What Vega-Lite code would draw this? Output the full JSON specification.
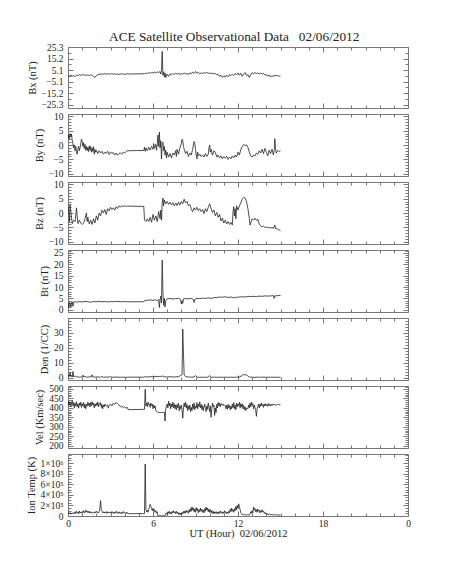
{
"$schema": "https://vega.github.io/schema/vega-lite/v6.json",
"background": "white",
"padding": {"left": 25, "top": 30, "right": 5, "bottom": 5},
"title": {"text": "ACE Satellite Observational Data\u00a0\u00a0\u00a002/06/2012", "font": "Liberation Serif", "fontSize": 13.3, "fontWeight": "normal", "color": "#222", "anchor": "middle", "offset": -2, "dx": 16},
"bounds": "flush",
"spacing": 6,
"config": {
  "view": {"stroke": "#777", "strokeWidth": 1},
  "axis": {"domain": false, "grid": false, "tickColor": "#777", "tickWidth": 1, "labelFont": "Liberation Serif", "labelFontSize": 9.5, "labelColor": "#222", "titleFont": "Liberation Serif", "titleFontSize": 10.5, "titleFontWeight": "normal", "titleColor": "#222", "labelOverlap": false, "labelBound": false, "labelFlush": false},
  "line": {"color": "#222", "strokeWidth": 0.8}
},
"datasets": {
"bx": [{"t":0,"v":0.5},{"t":0.1,"v":-0.5},{"t":0.2,"v":0.8},{"t":0.3,"v":-0.3},{"t":0.4,"v":0.2},{"t":0.5,"v":-0.8},{"t":0.6,"v":0.6},{"t":0.7,"v":0},{"t":0.8,"v":1},{"t":0.9,"v":0.3},{"t":1,"v":1.2},{"t":1.1,"v":0.5},{"t":1.2,"v":0.9},{"t":1.3,"v":0.2},{"t":1.4,"v":0.8},{"t":1.5,"v":0.1},{"t":1.6,"v":0.9},{"t":1.7,"v":0.4},{"t":1.8,"v":-0.5},{"t":1.9,"v":-1.5},{"t":2,"v":0.2},{"t":2.1,"v":0.8},{"t":2.2,"v":1.5},{"t":2.3,"v":1.2},{"t":2.4,"v":1.8},{"t":2.5,"v":1.4},{"t":2.6,"v":1.9},{"t":2.7,"v":1.5},{"t":2.8,"v":1.8},{"t":2.9,"v":1.3},{"t":3,"v":1.6},{"t":3.1,"v":1.9},{"t":3.2,"v":1.4},{"t":3.3,"v":1.7},{"t":3.4,"v":1.2},{"t":3.5,"v":1.6},{"t":3.6,"v":1.3},{"t":3.7,"v":1.7},{"t":3.8,"v":1.4},{"t":3.9,"v":1.8},{"t":4,"v":1.2},{"t":4.1,"v":1.5},{"t":4.2,"v":1.8},{"t":4.3,"v":1.5},{"t":4.4,"v":1.6},{"t":5.4,"v":1.8},{"t":5.5,"v":2.5},{"t":5.6,"v":1.9},{"t":5.7,"v":2.8},{"t":5.8,"v":2.2},{"t":5.9,"v":3},{"t":6,"v":2.4},{"t":6.1,"v":3.2},{"t":6.2,"v":2.5},{"t":6.3,"v":3.5},{"t":6.4,"v":2.8},{"t":6.5,"v":3.8},{"t":6.55,"v":1.5},{"t":6.6,"v":4.5},{"t":6.65,"v":21.5},{"t":6.7,"v":0.5},{"t":6.75,"v":3.5},{"t":6.8,"v":-1},{"t":6.85,"v":2.5},{"t":6.9,"v":-1.5},{"t":7,"v":1.5},{"t":7.1,"v":-0.5},{"t":7.2,"v":1.8},{"t":7.3,"v":0.8},{"t":7.4,"v":2},{"t":7.5,"v":1.2},{"t":7.6,"v":2.2},{"t":7.7,"v":1.5},{"t":7.8,"v":2.4},{"t":7.9,"v":1},{"t":8,"v":2},{"t":8.1,"v":1.3},{"t":8.2,"v":2.5},{"t":8.3,"v":1.6},{"t":8.4,"v":2.2},{"t":8.5,"v":1},{"t":8.6,"v":2.6},{"t":8.7,"v":1.8},{"t":8.8,"v":3.2},{"t":8.9,"v":2},{"t":9,"v":3.8},{"t":9.1,"v":2.2},{"t":9.2,"v":2.9},{"t":9.3,"v":1.8},{"t":9.4,"v":2.6},{"t":9.5,"v":1.9},{"t":9.6,"v":2.8},{"t":9.7,"v":2.2},{"t":9.8,"v":3},{"t":9.9,"v":2.1},{"t":10,"v":2.6},{"t":10.1,"v":1.7},{"t":10.2,"v":2.4},{"t":10.3,"v":1.6},{"t":10.4,"v":2},{"t":10.5,"v":0.8},{"t":10.6,"v":1.2},{"t":10.7,"v":-0.5},{"t":10.8,"v":0.5},{"t":10.9,"v":-1.5},{"t":11,"v":0},{"t":11.1,"v":-1.2},{"t":11.2,"v":0.6},{"t":11.3,"v":-0.8},{"t":11.4,"v":1},{"t":11.5,"v":0.2},{"t":11.6,"v":1.5},{"t":11.7,"v":0.3},{"t":11.8,"v":2},{"t":11.9,"v":0.8},{"t":12,"v":2.5},{"t":12.1,"v":0.5},{"t":12.2,"v":2.2},{"t":12.3,"v":-0.5},{"t":12.4,"v":1.5},{"t":12.5,"v":2.8},{"t":12.6,"v":0},{"t":12.7,"v":1.2},{"t":12.8,"v":-1.5},{"t":12.9,"v":1},{"t":13,"v":2.6},{"t":13.1,"v":1.8},{"t":13.2,"v":2.8},{"t":13.3,"v":2},{"t":13.4,"v":2.6},{"t":13.5,"v":1.5},{"t":13.6,"v":2.4},{"t":13.7,"v":1.6},{"t":13.8,"v":2},{"t":13.9,"v":0.5},{"t":14,"v":1.2},{"t":14.1,"v":-0.5},{"t":14.2,"v":0.8},{"t":14.3,"v":-1},{"t":14.4,"v":0.2},{"t":14.5,"v":-0.8},{"t":14.6,"v":0.8},{"t":14.7,"v":-0.2},{"t":14.8,"v":0.3},{"t":14.9,"v":-0.4},{"t":15,"v":0}],
"by": [{"t":0,"v":2},{"t":0.05,"v":3.5},{"t":0.1,"v":2.2},{"t":0.15,"v":4},{"t":0.2,"v":3},{"t":0.25,"v":3.8},{"t":0.3,"v":1.5},{"t":0.35,"v":0.5},{"t":0.4,"v":-1},{"t":0.45,"v":0},{"t":0.5,"v":-2},{"t":0.55,"v":-0.5},{"t":0.6,"v":-2.5},{"t":0.65,"v":-3.2},{"t":0.7,"v":-1.5},{"t":0.75,"v":-0.5},{"t":0.8,"v":-2},{"t":0.85,"v":-1},{"t":0.9,"v":0.5},{"t":0.95,"v":2},{"t":1,"v":1.2},{"t":1.05,"v":-0.5},{"t":1.1,"v":0.8},{"t":1.15,"v":-1.2},{"t":1.2,"v":0.2},{"t":1.25,"v":-1.8},{"t":1.3,"v":-0.5},{"t":1.35,"v":-2},{"t":1.4,"v":-0.8},{"t":1.45,"v":-2.3},{"t":1.5,"v":-0.3},{"t":1.55,"v":-1.8},{"t":1.6,"v":-0.5},{"t":1.65,"v":-2.5},{"t":1.7,"v":-1},{"t":1.75,"v":-2.2},{"t":1.8,"v":-0.6},{"t":1.85,"v":-3.2},{"t":1.9,"v":-1.5},{"t":1.95,"v":-2.5},{"t":2,"v":-1.8},{"t":2.1,"v":-3},{"t":2.2,"v":-2},{"t":2.3,"v":-2.8},{"t":2.4,"v":-2.2},{"t":2.5,"v":-3.2},{"t":2.6,"v":-2.5},{"t":2.7,"v":-2.9},{"t":2.8,"v":-2.2},{"t":2.9,"v":-3.3},{"t":3,"v":-2.4},{"t":3.1,"v":-3},{"t":3.2,"v":-2.6},{"t":3.3,"v":-3.5},{"t":3.4,"v":-2.8},{"t":3.5,"v":-3.6},{"t":3.6,"v":-3},{"t":3.7,"v":-2.7},{"t":3.8,"v":-3.2},{"t":3.9,"v":-2.5},{"t":4,"v":-2.8},{"t":4.1,"v":-2.3},{"t":4.2,"v":-2},{"t":5.35,"v":-1.9},{"t":5.4,"v":-0.8},{"t":5.45,"v":-2.2},{"t":5.5,"v":-1},{"t":5.6,"v":-2},{"t":5.7,"v":-0.8},{"t":5.8,"v":-1.8},{"t":5.9,"v":-0.5},{"t":6,"v":-1.5},{"t":6.05,"v":0.5},{"t":6.1,"v":-1.2},{"t":6.2,"v":0.2},{"t":6.25,"v":-1.8},{"t":6.3,"v":0.5},{"t":6.35,"v":3.5},{"t":6.4,"v":-0.5},{"t":6.45,"v":4.5},{"t":6.5,"v":-1},{"t":6.55,"v":1.5},{"t":6.6,"v":-4.8},{"t":6.65,"v":0.5},{"t":6.7,"v":1},{"t":6.75,"v":-2},{"t":6.8,"v":-0.5},{"t":6.85,"v":-3.5},{"t":6.9,"v":-1.8},{"t":6.95,"v":-4.5},{"t":7,"v":-2.5},{"t":7.1,"v":-4.2},{"t":7.2,"v":-3},{"t":7.3,"v":-4.5},{"t":7.4,"v":-2.8},{"t":7.5,"v":-3.5},{"t":7.6,"v":-2},{"t":7.65,"v":-4},{"t":7.7,"v":-1.5},{"t":7.8,"v":-3.2},{"t":7.9,"v":-1},{"t":8,"v":0.5},{"t":8.05,"v":2},{"t":8.1,"v":1.5},{"t":8.15,"v":-0.5},{"t":8.2,"v":-1.5},{"t":8.3,"v":-3},{"t":8.4,"v":-2.2},{"t":8.5,"v":-4},{"t":8.6,"v":-2.8},{"t":8.7,"v":-3.5},{"t":8.8,"v":-1.5},{"t":8.85,"v":0},{"t":8.9,"v":1.2},{"t":8.95,"v":0.5},{"t":9,"v":-1.5},{"t":9.05,"v":-3.5},{"t":9.1,"v":-4.8},{"t":9.15,"v":-2.5},{"t":9.2,"v":-3.8},{"t":9.3,"v":-3.2},{"t":9.4,"v":-4},{"t":9.5,"v":-3.5},{"t":9.6,"v":-4.2},{"t":9.7,"v":-3},{"t":9.8,"v":-4},{"t":9.9,"v":-3.2},{"t":9.95,"v":-1},{"t":10,"v":0},{"t":10.05,"v":-2.5},{"t":10.1,"v":-1.5},{"t":10.2,"v":-3.5},{"t":10.3,"v":-2},{"t":10.4,"v":-2.5},{"t":10.5,"v":-4.2},{"t":10.6,"v":-3.5},{"t":10.7,"v":-4.5},{"t":10.8,"v":-3.8},{"t":10.9,"v":-4.8},{"t":11,"v":-4},{"t":11.1,"v":-4.6},{"t":11.2,"v":-3.9},{"t":11.3,"v":-5},{"t":11.4,"v":-4.2},{"t":11.5,"v":-4.8},{"t":11.6,"v":-3.8},{"t":11.7,"v":-4.5},{"t":11.8,"v":-3.5},{"t":11.9,"v":-4.2},{"t":12,"v":-2.5},{"t":12.1,"v":-3.5},{"t":12.2,"v":-1.5},{"t":12.3,"v":-0.5},{"t":12.4,"v":0.2},{"t":12.5,"v":-0.2},{"t":12.6,"v":0},{"t":12.7,"v":-0.8},{"t":12.8,"v":-2.5},{"t":12.9,"v":-3.8},{"t":13,"v":-4.2},{"t":13.1,"v":-3.5},{"t":13.2,"v":-3.8},{"t":13.3,"v":-2.8},{"t":13.4,"v":-3.2},{"t":13.5,"v":-2},{"t":13.6,"v":-2.8},{"t":13.7,"v":-1.5},{"t":13.8,"v":-3},{"t":13.9,"v":-1.2},{"t":14,"v":-2.5},{"t":14.1,"v":-3.8},{"t":14.2,"v":-1.8},{"t":14.3,"v":-3},{"t":14.4,"v":-1.5},{"t":14.5,"v":-3.5},{"t":14.55,"v":-2},{"t":14.6,"v":2.2},{"t":14.65,"v":-1.5},{"t":14.7,"v":-2.8},{"t":14.8,"v":-1.8},{"t":14.9,"v":-2.3},{"t":15,"v":-2}],
"bz": [{"t":0,"v":2.6},{"t":0.05,"v":0.5},{"t":0.1,"v":-3},{"t":0.15,"v":2.8},{"t":0.2,"v":0.5},{"t":0.3,"v":-3.7},{"t":0.4,"v":-2.5},{"t":0.5,"v":-3},{"t":0.6,"v":1.8},{"t":0.65,"v":-1},{"t":0.7,"v":-3.7},{"t":0.8,"v":-2.5},{"t":0.9,"v":-3.5},{"t":1,"v":-4},{"t":1.1,"v":-3.5},{"t":1.2,"v":-2},{"t":1.3,"v":0},{"t":1.35,"v":-3},{"t":1.4,"v":-1.5},{"t":1.5,"v":-3.8},{"t":1.6,"v":-2.5},{"t":1.7,"v":-4},{"t":1.8,"v":-2},{"t":1.9,"v":-3.5},{"t":2,"v":-1},{"t":2.1,"v":-2.5},{"t":2.2,"v":0},{"t":2.3,"v":-1},{"t":2.4,"v":1},{"t":2.5,"v":0},{"t":2.6,"v":1.2},{"t":2.7,"v":-0.5},{"t":2.8,"v":1.5},{"t":2.9,"v":0.8},{"t":3,"v":2},{"t":3.1,"v":1.2},{"t":3.2,"v":1.8},{"t":3.3,"v":1},{"t":3.4,"v":2.2},{"t":3.5,"v":1.6},{"t":3.6,"v":2.5},{"t":3.7,"v":2},{"t":3.8,"v":2.6},{"t":3.9,"v":2.2},{"t":4,"v":2.5},{"t":4.1,"v":2.3},{"t":4.2,"v":2.4},{"t":5.35,"v":2.3},{"t":5.4,"v":-2.5},{"t":5.5,"v":-3},{"t":5.6,"v":-2},{"t":5.7,"v":-3},{"t":5.8,"v":-1.5},{"t":5.9,"v":-3.2},{"t":6,"v":-0.5},{"t":6.1,"v":-2.5},{"t":6.2,"v":-1},{"t":6.3,"v":-3},{"t":6.4,"v":0.5},{"t":6.5,"v":-2},{"t":6.55,"v":1},{"t":6.6,"v":-2.5},{"t":6.65,"v":3.5},{"t":6.7,"v":5.2},{"t":6.75,"v":2.5},{"t":6.8,"v":4.5},{"t":6.9,"v":3.2},{"t":7,"v":4},{"t":7.1,"v":3},{"t":7.2,"v":3.8},{"t":7.3,"v":2.8},{"t":7.4,"v":3.6},{"t":7.5,"v":2.5},{"t":7.6,"v":3.5},{"t":7.7,"v":2.6},{"t":7.8,"v":3.8},{"t":7.9,"v":2.8},{"t":8,"v":4},{"t":8.1,"v":3.2},{"t":8.2,"v":4.8},{"t":8.3,"v":3.5},{"t":8.4,"v":4},{"t":8.5,"v":2.5},{"t":8.6,"v":3},{"t":8.7,"v":1.5},{"t":8.8,"v":0.5},{"t":8.9,"v":1.8},{"t":9,"v":1},{"t":9.1,"v":2},{"t":9.2,"v":0.8},{"t":9.3,"v":1.5},{"t":9.4,"v":0.5},{"t":9.5,"v":1.2},{"t":9.6,"v":-0.2},{"t":9.7,"v":1.5},{"t":9.8,"v":0.5},{"t":9.9,"v":2},{"t":10,"v":3.2},{"t":10.1,"v":1.5},{"t":10.2,"v":0.2},{"t":10.3,"v":1},{"t":10.4,"v":-1},{"t":10.5,"v":0.2},{"t":10.6,"v":-1.5},{"t":10.7,"v":-0.5},{"t":10.8,"v":-2.8},{"t":10.9,"v":-1.8},{"t":11,"v":-3.5},{"t":11.1,"v":-2.5},{"t":11.2,"v":-3.8},{"t":11.3,"v":-3},{"t":11.4,"v":-4},{"t":11.5,"v":-3.2},{"t":11.6,"v":-4.2},{"t":11.65,"v":0.5},{"t":11.7,"v":2.2},{"t":11.75,"v":-1},{"t":11.8,"v":1.5},{"t":11.85,"v":-2},{"t":11.9,"v":2.5},{"t":12,"v":1},{"t":12.1,"v":2.5},{"t":12.2,"v":3.5},{"t":12.3,"v":5},{"t":12.4,"v":5.5},{"t":12.5,"v":5.2},{"t":12.6,"v":4},{"t":12.7,"v":1.5},{"t":12.8,"v":-2},{"t":12.85,"v":-4.2},{"t":12.9,"v":-3.5},{"t":13,"v":-2},{"t":13.1,"v":-2.5},{"t":13.2,"v":-1.8},{"t":13.3,"v":-2.6},{"t":13.4,"v":-2.2},{"t":13.5,"v":-3.8},{"t":13.6,"v":-4.5},{"t":13.7,"v":-4.8},{"t":13.8,"v":-4.6},{"t":13.9,"v":-5},{"t":14,"v":-4.9},{"t":14.1,"v":-5.1},{"t":14.2,"v":-5},{"t":14.3,"v":-5.3},{"t":14.4,"v":-5},{"t":14.5,"v":-5.4},{"t":14.6,"v":-4.2},{"t":14.65,"v":-5.5},{"t":14.7,"v":-5.2},{"t":14.8,"v":-5.8},{"t":14.9,"v":-5.9},{"t":15,"v":-6.2}],
"bt": [{"t":0,"v":3},{"t":0.05,"v":1},{"t":0.1,"v":3.2},{"t":0.15,"v":2.8},{"t":0.2,"v":1.2},{"t":0.25,"v":3.3},{"t":0.3,"v":3.5},{"t":0.35,"v":1.5},{"t":0.4,"v":3.4},{"t":0.5,"v":3.6},{"t":0.6,"v":3.3},{"t":0.8,"v":3.6},{"t":1,"v":3.4},{"t":1.2,"v":3.7},{"t":1.4,"v":3.5},{"t":1.6,"v":3.3},{"t":1.8,"v":3.6},{"t":2,"v":3.5},{"t":2.2,"v":3.7},{"t":2.4,"v":3.5},{"t":2.6,"v":3.6},{"t":2.8,"v":3.4},{"t":3,"v":3.6},{"t":3.2,"v":3.5},{"t":3.4,"v":3.7},{"t":3.6,"v":3.6},{"t":3.8,"v":3.5},{"t":4,"v":3.6},{"t":4.2,"v":3.5},{"t":5.35,"v":3.5},{"t":5.4,"v":4},{"t":5.6,"v":4.2},{"t":5.8,"v":4.3},{"t":6,"v":4.1},{"t":6.2,"v":4.4},{"t":6.3,"v":4},{"t":6.4,"v":4.5},{"t":6.45,"v":1},{"t":6.5,"v":4.5},{"t":6.55,"v":6},{"t":6.6,"v":3},{"t":6.65,"v":21.8},{"t":6.7,"v":8},{"t":6.75,"v":2},{"t":6.8,"v":5},{"t":6.85,"v":1.2},{"t":6.9,"v":4},{"t":7,"v":4.8},{"t":7.2,"v":5},{"t":7.4,"v":4.7},{"t":7.6,"v":4.9},{"t":7.8,"v":5},{"t":7.95,"v":4.6},{"t":8,"v":2.5},{"t":8.05,"v":4},{"t":8.1,"v":2.8},{"t":8.15,"v":4.8},{"t":8.3,"v":4.9},{"t":8.5,"v":4.8},{"t":8.7,"v":5},{"t":8.85,"v":4.5},{"t":8.9,"v":3.2},{"t":8.95,"v":4.6},{"t":9.1,"v":5},{"t":9.3,"v":4.9},{"t":9.5,"v":5.1},{"t":9.7,"v":5},{"t":9.9,"v":5.2},{"t":10.1,"v":5},{"t":10.3,"v":5.3},{"t":10.5,"v":5.4},{"t":10.7,"v":5.6},{"t":10.9,"v":5.5},{"t":11.1,"v":5.7},{"t":11.3,"v":5.4},{"t":11.5,"v":5.6},{"t":11.7,"v":5.3},{"t":11.9,"v":5.5},{"t":12.1,"v":5.6},{"t":12.3,"v":5.7},{"t":12.5,"v":5.6},{"t":12.7,"v":5.9},{"t":12.9,"v":5.8},{"t":13.1,"v":5.9},{"t":13.3,"v":5.8},{"t":13.5,"v":6},{"t":13.7,"v":5.9},{"t":13.9,"v":6.1},{"t":14.1,"v":6},{"t":14.3,"v":6.1},{"t":14.5,"v":6.2},{"t":14.55,"v":5},{"t":14.6,"v":6.1},{"t":14.8,"v":6.2},{"t":15,"v":6.3}],
"den": [{"t":0,"v":0.5},{"t":0.05,"v":2},{"t":0.1,"v":1},{"t":0.15,"v":3.5},{"t":0.2,"v":0.8},{"t":0.25,"v":1.5},{"t":0.3,"v":0.5},{"t":0.35,"v":4.2},{"t":0.4,"v":0.6},{"t":0.5,"v":1.2},{"t":0.6,"v":0.4},{"t":0.7,"v":0.8},{"t":0.8,"v":0.3},{"t":0.9,"v":0.5},{"t":1,"v":0.6},{"t":1.05,"v":1.8},{"t":1.1,"v":0.5},{"t":1.2,"v":0.8},{"t":1.3,"v":0.4},{"t":1.5,"v":0.6},{"t":1.65,"v":0.5},{"t":1.7,"v":2},{"t":1.75,"v":0.6},{"t":1.9,"v":0.4},{"t":2.1,"v":0.6},{"t":2.3,"v":0.3},{"t":2.4,"v":1},{"t":2.5,"v":0.3},{"t":2.7,"v":0.5},{"t":2.9,"v":0.4},{"t":3,"v":0.9},{"t":3.1,"v":0.3},{"t":3.3,"v":0.4},{"t":3.5,"v":0.5},{"t":3.7,"v":0.3},{"t":3.9,"v":0.4},{"t":4.1,"v":0.3},{"t":4.3,"v":0.4},{"t":5.35,"v":0.4},{"t":5.4,"v":0.7},{"t":5.6,"v":0.5},{"t":5.8,"v":0.8},{"t":6,"v":0.6},{"t":6.2,"v":0.9},{"t":6.4,"v":0.7},{"t":6.5,"v":1},{"t":6.6,"v":0.8},{"t":6.7,"v":1.2},{"t":6.8,"v":0.6},{"t":7,"v":0.5},{"t":7.2,"v":0.7},{"t":7.4,"v":0.5},{"t":7.6,"v":0.6},{"t":7.8,"v":0.8},{"t":7.95,"v":1.5},{"t":8.05,"v":2},{"t":8.1,"v":32.6},{"t":8.15,"v":16},{"t":8.2,"v":2},{"t":8.3,"v":0.8},{"t":8.5,"v":0.5},{"t":8.7,"v":0.4},{"t":8.9,"v":0.5},{"t":9,"v":1.5},{"t":9.1,"v":0.4},{"t":9.3,"v":0.3},{"t":9.5,"v":0.4},{"t":9.7,"v":0.3},{"t":9.9,"v":0.4},{"t":10,"v":1.5},{"t":10.1,"v":0.3},{"t":10.3,"v":0.4},{"t":10.5,"v":0.3},{"t":10.7,"v":0.4},{"t":10.9,"v":0.3},{"t":11.1,"v":0.4},{"t":11.3,"v":0.3},{"t":11.5,"v":0.4},{"t":11.7,"v":0.3},{"t":11.9,"v":0.4},{"t":12.1,"v":0.5},{"t":12.3,"v":1.5},{"t":12.4,"v":2.2},{"t":12.5,"v":1.8},{"t":12.6,"v":2},{"t":12.7,"v":1.2},{"t":12.8,"v":0.5},{"t":13,"v":0.4},{"t":13.2,"v":0.3},{"t":13.4,"v":0.4},{"t":13.6,"v":0.3},{"t":13.8,"v":0.5},{"t":14,"v":0.3},{"t":14.2,"v":0.4},{"t":14.4,"v":0.3},{"t":14.6,"v":0.4},{"t":14.8,"v":0.3},{"t":15,"v":0.3}],
"vel": [{"t":0,"v":410},{"t":0.05,"v":435},{"t":0.1,"v":415},{"t":0.15,"v":430},{"t":0.2,"v":405},{"t":0.25,"v":425},{"t":0.3,"v":440},{"t":0.35,"v":410},{"t":0.4,"v":428},{"t":0.45,"v":400},{"t":0.5,"v":425},{"t":0.55,"v":410},{"t":0.6,"v":432},{"t":0.65,"v":405},{"t":0.7,"v":420},{"t":0.75,"v":398},{"t":0.8,"v":425},{"t":0.85,"v":412},{"t":0.9,"v":430},{"t":0.95,"v":402},{"t":1,"v":422},{"t":1.05,"v":410},{"t":1.1,"v":428},{"t":1.15,"v":400},{"t":1.2,"v":420},{"t":1.25,"v":395},{"t":1.3,"v":418},{"t":1.35,"v":408},{"t":1.4,"v":430},{"t":1.45,"v":412},{"t":1.5,"v":425},{"t":1.55,"v":405},{"t":1.6,"v":428},{"t":1.65,"v":410},{"t":1.7,"v":432},{"t":1.75,"v":415},{"t":1.8,"v":425},{"t":1.85,"v":400},{"t":1.9,"v":420},{"t":1.95,"v":408},{"t":2,"v":425},{"t":2.05,"v":412},{"t":2.1,"v":430},{"t":2.15,"v":405},{"t":2.2,"v":422},{"t":2.25,"v":415},{"t":2.3,"v":428},{"t":2.35,"v":402},{"t":2.4,"v":418},{"t":2.45,"v":395},{"t":2.5,"v":415},{"t":2.55,"v":405},{"t":2.6,"v":420},{"t":2.7,"v":408},{"t":2.8,"v":415},{"t":2.85,"v":398},{"t":2.9,"v":412},{"t":3,"v":420},{"t":3.1,"v":410},{"t":3.2,"v":425},{"t":3.3,"v":418},{"t":3.4,"v":428},{"t":3.5,"v":420},{"t":3.6,"v":415},{"t":3.7,"v":405},{"t":3.8,"v":410},{"t":3.9,"v":400},{"t":4,"v":405},{"t":4.1,"v":398},{"t":4.2,"v":402},{"t":4.25,"v":390},{"t":5.4,"v":392},{"t":5.45,"v":498},{"t":5.5,"v":410},{"t":5.55,"v":425},{"t":5.6,"v":405},{"t":5.65,"v":430},{"t":5.7,"v":415},{"t":5.75,"v":420},{"t":5.8,"v":402},{"t":5.85,"v":425},{"t":5.9,"v":412},{"t":5.95,"v":420},{"t":6,"v":395},{"t":6.05,"v":415},{"t":6.1,"v":400},{"t":6.15,"v":410},{"t":6.2,"v":385},{"t":6.3,"v":378},{"t":6.4,"v":375},{"t":6.5,"v":376},{"t":6.6,"v":375},{"t":6.7,"v":376},{"t":6.8,"v":377},{"t":6.85,"v":330},{"t":6.9,"v":395},{"t":7,"v":420},{"t":7.05,"v":400},{"t":7.1,"v":435},{"t":7.15,"v":410},{"t":7.2,"v":425},{"t":7.25,"v":395},{"t":7.3,"v":420},{"t":7.35,"v":405},{"t":7.4,"v":430},{"t":7.45,"v":400},{"t":7.5,"v":422},{"t":7.55,"v":395},{"t":7.6,"v":415},{"t":7.65,"v":390},{"t":7.7,"v":418},{"t":7.75,"v":400},{"t":7.8,"v":425},{"t":7.85,"v":385},{"t":7.9,"v":410},{"t":7.95,"v":395},{"t":8,"v":415},{"t":8.05,"v":390},{"t":8.1,"v":345},{"t":8.15,"v":400},{"t":8.2,"v":425},{"t":8.25,"v":405},{"t":8.3,"v":430},{"t":8.35,"v":398},{"t":8.4,"v":418},{"t":8.45,"v":385},{"t":8.5,"v":410},{"t":8.55,"v":392},{"t":8.6,"v":415},{"t":8.65,"v":380},{"t":8.7,"v":402},{"t":8.75,"v":385},{"t":8.8,"v":420},{"t":8.85,"v":395},{"t":8.9,"v":425},{"t":8.95,"v":390},{"t":9,"v":410},{"t":9.05,"v":400},{"t":9.1,"v":428},{"t":9.15,"v":395},{"t":9.2,"v":420},{"t":9.25,"v":405},{"t":9.3,"v":432},{"t":9.35,"v":400},{"t":9.4,"v":418},{"t":9.45,"v":390},{"t":9.5,"v":412},{"t":9.55,"v":385},{"t":9.6,"v":405},{"t":9.65,"v":420},{"t":9.7,"v":395},{"t":9.75,"v":380},{"t":9.8,"v":410},{"t":9.85,"v":392},{"t":9.9,"v":425},{"t":9.95,"v":400},{"t":10,"v":380},{"t":10.05,"v":410},{"t":10.1,"v":350},{"t":10.15,"v":395},{"t":10.2,"v":425},{"t":10.25,"v":405},{"t":10.3,"v":415},{"t":10.35,"v":360},{"t":10.4,"v":400},{"t":10.45,"v":375},{"t":10.5,"v":418},{"t":10.55,"v":400},{"t":10.6,"v":428},{"t":10.65,"v":410},{"t":10.7,"v":425},{"t":10.75,"v":405},{"t":10.8,"v":422},{"t":10.85,"v":415},{"t":10.9,"v":420},{"t":10.95,"v":412},{"t":11,"v":418},{"t":11.1,"v":410},{"t":11.15,"v":395},{"t":11.2,"v":415},{"t":11.25,"v":392},{"t":11.3,"v":418},{"t":11.35,"v":400},{"t":11.4,"v":412},{"t":11.45,"v":390},{"t":11.5,"v":408},{"t":11.55,"v":395},{"t":11.6,"v":420},{"t":11.65,"v":400},{"t":11.7,"v":428},{"t":11.75,"v":395},{"t":11.8,"v":415},{"t":11.85,"v":390},{"t":11.9,"v":425},{"t":11.95,"v":405},{"t":12,"v":420},{"t":12.05,"v":410},{"t":12.1,"v":430},{"t":12.15,"v":398},{"t":12.2,"v":422},{"t":12.25,"v":405},{"t":12.3,"v":420},{"t":12.35,"v":395},{"t":12.4,"v":412},{"t":12.45,"v":390},{"t":12.5,"v":405},{"t":12.55,"v":385},{"t":12.6,"v":398},{"t":12.7,"v":395},{"t":12.75,"v":415},{"t":12.8,"v":400},{"t":12.85,"v":425},{"t":12.9,"v":405},{"t":12.95,"v":430},{"t":13,"v":412},{"t":13.05,"v":422},{"t":13.1,"v":395},{"t":13.15,"v":415},{"t":13.2,"v":400},{"t":13.25,"v":385},{"t":13.3,"v":355},{"t":13.35,"v":395},{"t":13.4,"v":405},{"t":13.45,"v":418},{"t":13.5,"v":400},{"t":13.55,"v":420},{"t":13.6,"v":408},{"t":13.65,"v":425},{"t":13.7,"v":410},{"t":13.75,"v":418},{"t":13.8,"v":402},{"t":13.85,"v":420},{"t":13.9,"v":410},{"t":13.95,"v":422},{"t":14,"v":412},{"t":14.05,"v":418},{"t":14.1,"v":408},{"t":14.15,"v":422},{"t":14.2,"v":412},{"t":14.25,"v":420},{"t":14.3,"v":410},{"t":14.35,"v":418},{"t":14.4,"v":412},{"t":14.45,"v":420},{"t":14.5,"v":415},{"t":14.6,"v":418},{"t":14.7,"v":412},{"t":14.8,"v":420},{"t":14.9,"v":415},{"t":15,"v":418}],
"temp": [{"t":0,"v":40000},{"t":0.05,"v":70000},{"t":0.1,"v":45000},{"t":0.15,"v":60000},{"t":0.2,"v":35000},{"t":0.3,"v":55000},{"t":0.35,"v":40000},{"t":0.4,"v":65000},{"t":0.45,"v":50000},{"t":0.5,"v":80000},{"t":0.55,"v":45000},{"t":0.6,"v":90000},{"t":0.65,"v":60000},{"t":0.7,"v":75000},{"t":0.75,"v":40000},{"t":0.8,"v":95000},{"t":0.85,"v":55000},{"t":0.9,"v":70000},{"t":0.95,"v":50000},{"t":1,"v":85000},{"t":1.05,"v":60000},{"t":1.1,"v":100000},{"t":1.15,"v":70000},{"t":1.2,"v":60000},{"t":1.25,"v":110000},{"t":1.3,"v":75000},{"t":1.35,"v":95000},{"t":1.4,"v":65000},{"t":1.45,"v":85000},{"t":1.5,"v":55000},{"t":1.55,"v":90000},{"t":1.6,"v":60000},{"t":1.65,"v":75000},{"t":1.7,"v":50000},{"t":1.8,"v":70000},{"t":1.85,"v":55000},{"t":1.9,"v":80000},{"t":1.95,"v":60000},{"t":2,"v":90000},{"t":2.05,"v":65000},{"t":2.1,"v":75000},{"t":2.15,"v":55000},{"t":2.2,"v":85000},{"t":2.25,"v":150000},{"t":2.3,"v":290000},{"t":2.35,"v":120000},{"t":2.4,"v":90000},{"t":2.45,"v":60000},{"t":2.5,"v":80000},{"t":2.55,"v":55000},{"t":2.6,"v":75000},{"t":2.65,"v":60000},{"t":2.7,"v":85000},{"t":2.75,"v":50000},{"t":2.8,"v":70000},{"t":2.85,"v":55000},{"t":2.9,"v":80000},{"t":2.95,"v":60000},{"t":3,"v":75000},{"t":3.05,"v":50000},{"t":3.1,"v":85000},{"t":3.15,"v":60000},{"t":3.2,"v":70000},{"t":3.25,"v":45000},{"t":3.3,"v":75000},{"t":3.35,"v":55000},{"t":3.4,"v":90000},{"t":3.45,"v":60000},{"t":3.5,"v":70000},{"t":3.55,"v":45000},{"t":3.6,"v":80000},{"t":3.65,"v":55000},{"t":3.7,"v":65000},{"t":3.75,"v":40000},{"t":3.8,"v":70000},{"t":3.85,"v":50000},{"t":3.9,"v":85000},{"t":3.95,"v":55000},{"t":4,"v":65000},{"t":4.1,"v":45000},{"t":4.15,"v":75000},{"t":4.2,"v":50000},{"t":4.25,"v":45000},{"t":5.4,"v":45000},{"t":5.45,"v":980000},{"t":5.5,"v":120000},{"t":5.55,"v":80000},{"t":5.6,"v":110000},{"t":5.65,"v":70000},{"t":5.7,"v":130000},{"t":5.75,"v":160000},{"t":5.8,"v":220000},{"t":5.85,"v":180000},{"t":5.9,"v":140000},{"t":5.95,"v":100000},{"t":6,"v":150000},{"t":6.05,"v":90000},{"t":6.1,"v":120000},{"t":6.15,"v":70000},{"t":6.2,"v":100000},{"t":6.25,"v":60000},{"t":6.3,"v":80000},{"t":6.35,"v":5000},{"t":6.6,"v":3000},{"t":6.85,"v":5000},{"t":6.9,"v":40000},{"t":6.95,"v":60000},{"t":7,"v":30000},{"t":7.05,"v":80000},{"t":7.1,"v":50000},{"t":7.15,"v":90000},{"t":7.2,"v":40000},{"t":7.25,"v":70000},{"t":7.3,"v":35000},{"t":7.35,"v":85000},{"t":7.4,"v":55000},{"t":7.45,"v":100000},{"t":7.5,"v":60000},{"t":7.55,"v":80000},{"t":7.6,"v":45000},{"t":7.65,"v":90000},{"t":7.7,"v":50000},{"t":7.75,"v":75000},{"t":7.8,"v":30000},{"t":7.85,"v":60000},{"t":7.9,"v":25000},{"t":7.95,"v":55000},{"t":8,"v":30000},{"t":8.05,"v":70000},{"t":8.1,"v":40000},{"t":8.15,"v":85000},{"t":8.2,"v":50000},{"t":8.25,"v":95000},{"t":8.3,"v":60000},{"t":8.35,"v":110000},{"t":8.4,"v":70000},{"t":8.45,"v":90000},{"t":8.5,"v":50000},{"t":8.55,"v":120000},{"t":8.6,"v":75000},{"t":8.65,"v":140000},{"t":8.7,"v":90000},{"t":8.75,"v":170000},{"t":8.8,"v":110000},{"t":8.85,"v":150000},{"t":8.9,"v":80000},{"t":8.95,"v":130000},{"t":9,"v":70000},{"t":9.05,"v":160000},{"t":9.1,"v":100000},{"t":9.15,"v":140000},{"t":9.2,"v":60000},{"t":9.25,"v":120000},{"t":9.3,"v":80000},{"t":9.35,"v":150000},{"t":9.4,"v":90000},{"t":9.45,"v":130000},{"t":9.5,"v":70000},{"t":9.55,"v":110000},{"t":9.6,"v":60000},{"t":9.65,"v":140000},{"t":9.7,"v":90000},{"t":9.75,"v":170000},{"t":9.8,"v":110000},{"t":9.85,"v":150000},{"t":9.9,"v":80000},{"t":9.95,"v":130000},{"t":10,"v":70000},{"t":10.05,"v":120000},{"t":10.1,"v":60000},{"t":10.15,"v":100000},{"t":10.2,"v":50000},{"t":10.25,"v":90000},{"t":10.3,"v":40000},{"t":10.35,"v":75000},{"t":10.4,"v":50000},{"t":10.45,"v":85000},{"t":10.5,"v":45000},{"t":10.55,"v":70000},{"t":10.6,"v":40000},{"t":10.65,"v":80000},{"t":10.7,"v":50000},{"t":10.75,"v":95000},{"t":10.8,"v":60000},{"t":10.85,"v":80000},{"t":10.9,"v":45000},{"t":10.95,"v":75000},{"t":11,"v":50000},{"t":11.05,"v":100000},{"t":11.1,"v":60000},{"t":11.15,"v":80000},{"t":11.2,"v":40000},{"t":11.25,"v":70000},{"t":11.3,"v":50000},{"t":11.35,"v":90000},{"t":11.4,"v":60000},{"t":11.45,"v":130000},{"t":11.5,"v":80000},{"t":11.55,"v":150000},{"t":11.6,"v":90000},{"t":11.65,"v":120000},{"t":11.7,"v":70000},{"t":11.75,"v":140000},{"t":11.8,"v":100000},{"t":11.85,"v":180000},{"t":11.9,"v":120000},{"t":11.95,"v":200000},{"t":12,"v":140000},{"t":12.05,"v":230000},{"t":12.1,"v":170000},{"t":12.15,"v":120000},{"t":12.2,"v":60000},{"t":12.25,"v":40000},{"t":12.3,"v":25000},{"t":12.35,"v":35000},{"t":12.4,"v":20000},{"t":12.45,"v":30000},{"t":12.5,"v":15000},{"t":12.55,"v":25000},{"t":12.6,"v":20000},{"t":12.65,"v":30000},{"t":12.7,"v":15000},{"t":12.75,"v":25000},{"t":12.8,"v":20000},{"t":12.85,"v":40000},{"t":12.9,"v":80000},{"t":12.95,"v":50000},{"t":13,"v":100000},{"t":13.05,"v":60000},{"t":13.1,"v":170000},{"t":13.15,"v":110000},{"t":13.2,"v":140000},{"t":13.25,"v":80000},{"t":13.3,"v":120000},{"t":13.35,"v":70000},{"t":13.4,"v":130000},{"t":13.45,"v":90000},{"t":13.5,"v":110000},{"t":13.55,"v":60000},{"t":13.6,"v":100000},{"t":13.65,"v":70000},{"t":13.7,"v":120000},{"t":13.75,"v":80000},{"t":13.8,"v":95000},{"t":13.85,"v":50000},{"t":13.9,"v":70000},{"t":13.95,"v":40000},{"t":14,"v":55000},{"t":14.05,"v":30000},{"t":14.1,"v":45000},{"t":14.15,"v":25000},{"t":14.2,"v":40000},{"t":14.3,"v":20000},{"t":14.35,"v":35000},{"t":14.4,"v":15000},{"t":14.5,"v":30000},{"t":14.6,"v":20000},{"t":14.7,"v":25000},{"t":14.8,"v":15000},{"t":14.9,"v":20000},{"t":15,"v":15000}]
},
"vconcat": [
{"width": 340, "height": 61, "resolve": {"axis": {"x": "independent", "y": "independent"}},
 "layer": [
  {"data": {"name": "bx"}, "mark": {"type": "line", "clip": true},
   "encoding": {
    "x": {"field": "t", "type": "quantitative", "scale": {"domain": [0, 24], "nice": false}, "axis": {"orient": "bottom", "title": null, "labels": false, "values": [0,1,2,3,4,5,6,7,8,9,10,11,12,13,14,15,16,17,18,19,20,21,22,23,24], "tickSize": {"condition": {"test": "datum.value % 6 === 0", "value": -5}, "value": -3}}},
    "y": {"field": "v", "type": "quantitative", "scale": {"domain": [-28.3, 25.3], "nice": false, "zero": false}, "axis": {"orient": "left", "title": "Bx (nT)", "titlePadding": 4, "values": [-25.3,-20.24,-15.18,-10.12,-5.06,0,5.06,10.12,15.18,20.24,25.3], "labelExpr": "indexof([-25.3,-15.18,-5.06,5.06,15.18,25.3], datum.value) >= 0 ? format(datum.value, '.1f') : ''", "labelPadding": 10, "tickSize": {"condition": {"test": "indexof([-25.3,-15.18,-5.06,5.06,15.18,25.3], datum.value) >= 0", "value": -5}, "value": -3}}}
   }},
  {"data": {"name": "bx"}, "mark": {"type": "line", "strokeOpacity": 0},
   "encoding": {
    "x": {"field": "t", "type": "quantitative", "axis": {"orient": "top", "title": null, "labels": false, "values": [0,1,2,3,4,5,6,7,8,9,10,11,12,13,14,15,16,17,18,19,20,21,22,23,24], "tickSize": {"condition": {"test": "datum.value % 6 === 0", "value": -5}, "value": -3}}},
    "y": {"field": "v", "type": "quantitative", "axis": {"orient": "right", "title": null, "labels": false, "values": [-25.3,-20.24,-15.18,-10.12,-5.06,0,5.06,10.12,15.18,20.24,25.3], "tickSize": {"condition": {"test": "indexof([-25.3,-15.18,-5.06,5.06,15.18,25.3], datum.value) >= 0", "value": -5}, "value": -3}}}
   }}
 ]},
{"width": 340, "height": 62, "resolve": {"axis": {"x": "independent", "y": "independent"}},
 "layer": [
  {"data": {"name": "by"}, "mark": {"type": "line", "clip": true},
   "encoding": {
    "x": {"field": "t", "type": "quantitative", "scale": {"domain": [0, 24], "nice": false}, "axis": {"orient": "bottom", "title": null, "labels": false, "values": [0,1,2,3,4,5,6,7,8,9,10,11,12,13,14,15,16,17,18,19,20,21,22,23,24], "tickSize": {"condition": {"test": "datum.value % 6 === 0", "value": -5}, "value": -3}}},
    "y": {"field": "v", "type": "quantitative", "scale": {"domain": [-10.8, 10.8], "nice": false, "zero": false}, "axis": {"orient": "left", "title": "By (nT)", "titlePadding": 4, "values": [-10,-9,-8,-7,-6,-5,-4,-3,-2,-1,0,1,2,3,4,5,6,7,8,9,10], "labelExpr": "datum.value % 5 === 0 ? format(datum.value, 'd') : ''", "labelPadding": 10, "tickSize": {"condition": {"test": "datum.value % 5 === 0", "value": -5}, "value": -3}}}
   }},
  {"data": {"name": "by"}, "mark": {"type": "line", "strokeOpacity": 0},
   "encoding": {
    "x": {"field": "t", "type": "quantitative", "axis": {"orient": "top", "title": null, "labels": false, "values": [0,1,2,3,4,5,6,7,8,9,10,11,12,13,14,15,16,17,18,19,20,21,22,23,24], "tickSize": {"condition": {"test": "datum.value % 6 === 0", "value": -5}, "value": -3}}},
    "y": {"field": "v", "type": "quantitative", "axis": {"orient": "right", "title": null, "labels": false, "values": [-10,-9,-8,-7,-6,-5,-4,-3,-2,-1,0,1,2,3,4,5,6,7,8,9,10], "tickSize": {"condition": {"test": "datum.value % 5 === 0", "value": -5}, "value": -3}}}
   }}
 ]},
{"width": 340, "height": 62, "resolve": {"axis": {"x": "independent", "y": "independent"}},
 "layer": [
  {"data": {"name": "bz"}, "mark": {"type": "line", "clip": true},
   "encoding": {
    "x": {"field": "t", "type": "quantitative", "scale": {"domain": [0, 24], "nice": false}, "axis": {"orient": "bottom", "title": null, "labels": false, "values": [0,1,2,3,4,5,6,7,8,9,10,11,12,13,14,15,16,17,18,19,20,21,22,23,24], "tickSize": {"condition": {"test": "datum.value % 6 === 0", "value": -5}, "value": -3}}},
    "y": {"field": "v", "type": "quantitative", "scale": {"domain": [-10.8, 10.8], "nice": false, "zero": false}, "axis": {"orient": "left", "title": "Bz (nT)", "titlePadding": 4, "values": [-10,-9,-8,-7,-6,-5,-4,-3,-2,-1,0,1,2,3,4,5,6,7,8,9,10], "labelExpr": "datum.value % 5 === 0 ? format(datum.value, 'd') : ''", "labelPadding": 10, "tickSize": {"condition": {"test": "datum.value % 5 === 0", "value": -5}, "value": -3}}}
   }},
  {"data": {"name": "bz"}, "mark": {"type": "line", "strokeOpacity": 0},
   "encoding": {
    "x": {"field": "t", "type": "quantitative", "axis": {"orient": "top", "title": null, "labels": false, "values": [0,1,2,3,4,5,6,7,8,9,10,11,12,13,14,15,16,17,18,19,20,21,22,23,24], "tickSize": {"condition": {"test": "datum.value % 6 === 0", "value": -5}, "value": -3}}},
    "y": {"field": "v", "type": "quantitative", "axis": {"orient": "right", "title": null, "labels": false, "values": [-10,-9,-8,-7,-6,-5,-4,-3,-2,-1,0,1,2,3,4,5,6,7,8,9,10], "tickSize": {"condition": {"test": "datum.value % 5 === 0", "value": -5}, "value": -3}}}
   }}
 ]},
{"width": 340, "height": 62, "resolve": {"axis": {"x": "independent", "y": "independent"}},
 "layer": [
  {"data": {"name": "bt"}, "mark": {"type": "line", "clip": true},
   "encoding": {
    "x": {"field": "t", "type": "quantitative", "scale": {"domain": [0, 24], "nice": false}, "axis": {"orient": "bottom", "title": null, "labels": false, "values": [0,1,2,3,4,5,6,7,8,9,10,11,12,13,14,15,16,17,18,19,20,21,22,23,24], "tickSize": {"condition": {"test": "datum.value % 6 === 0", "value": -5}, "value": -3}}},
    "y": {"field": "v", "type": "quantitative", "scale": {"domain": [-1, 26.3], "nice": false, "zero": false}, "axis": {"orient": "left", "title": "Bt (nT)", "titlePadding": 4, "values": [0,1,2,3,4,5,6,7,8,9,10,11,12,13,14,15,16,17,18,19,20,21,22,23,24,25,26], "labelExpr": "datum.value % 5 === 0 ? format(datum.value, 'd') : ''", "labelPadding": 10, "tickSize": {"condition": {"test": "datum.value % 5 === 0", "value": -5}, "value": -3}}}
   }},
  {"data": {"name": "bt"}, "mark": {"type": "line", "strokeOpacity": 0},
   "encoding": {
    "x": {"field": "t", "type": "quantitative", "axis": {"orient": "top", "title": null, "labels": false, "values": [0,1,2,3,4,5,6,7,8,9,10,11,12,13,14,15,16,17,18,19,20,21,22,23,24], "tickSize": {"condition": {"test": "datum.value % 6 === 0", "value": -5}, "value": -3}}},
    "y": {"field": "v", "type": "quantitative", "axis": {"orient": "right", "title": null, "labels": false, "values": [0,1,2,3,4,5,6,7,8,9,10,11,12,13,14,15,16,17,18,19,20,21,22,23,24,25,26], "tickSize": {"condition": {"test": "datum.value % 5 === 0", "value": -5}, "value": -3}}}
   }}
 ]},
{"width": 340, "height": 62, "resolve": {"axis": {"x": "independent", "y": "independent"}},
 "layer": [
  {"data": {"name": "den"}, "mark": {"type": "line", "clip": true},
   "encoding": {
    "x": {"field": "t", "type": "quantitative", "scale": {"domain": [0, 24], "nice": false}, "axis": {"orient": "bottom", "title": null, "labels": false, "values": [0,1,2,3,4,5,6,7,8,9,10,11,12,13,14,15,16,17,18,19,20,21,22,23,24], "tickSize": {"condition": {"test": "datum.value % 6 === 0", "value": -5}, "value": -3}}},
    "y": {"field": "v", "type": "quantitative", "scale": {"domain": [-1.5, 40], "nice": false, "zero": false}, "axis": {"orient": "left", "title": "Den (1/CC)", "titlePadding": 4, "values": [0,2,4,6,8,10,12,14,16,18,20,22,24,26,28,30,32,34,36,38], "labelExpr": "datum.value % 10 === 0 ? format(datum.value, 'd') : ''", "labelPadding": 10, "tickSize": {"condition": {"test": "datum.value % 10 === 0", "value": -5}, "value": -3}}}
   }},
  {"data": {"name": "den"}, "mark": {"type": "line", "strokeOpacity": 0},
   "encoding": {
    "x": {"field": "t", "type": "quantitative", "axis": {"orient": "top", "title": null, "labels": false, "values": [0,1,2,3,4,5,6,7,8,9,10,11,12,13,14,15,16,17,18,19,20,21,22,23,24], "tickSize": {"condition": {"test": "datum.value % 6 === 0", "value": -5}, "value": -3}}},
    "y": {"field": "v", "type": "quantitative", "axis": {"orient": "right", "title": null, "labels": false, "values": [0,2,4,6,8,10,12,14,16,18,20,22,24,26,28,30,32,34,36,38], "tickSize": {"condition": {"test": "datum.value % 10 === 0", "value": -5}, "value": -3}}}
   }}
 ]},
{"width": 340, "height": 62, "resolve": {"axis": {"x": "independent", "y": "independent"}},
 "layer": [
  {"data": {"name": "vel"}, "mark": {"type": "line", "clip": true},
   "encoding": {
    "x": {"field": "t", "type": "quantitative", "scale": {"domain": [0, 24], "nice": false}, "axis": {"orient": "bottom", "title": null, "labels": false, "values": [0,1,2,3,4,5,6,7,8,9,10,11,12,13,14,15,16,17,18,19,20,21,22,23,24], "tickSize": {"condition": {"test": "datum.value % 6 === 0", "value": -5}, "value": -3}}},
    "y": {"field": "v", "type": "quantitative", "scale": {"domain": [188, 515], "nice": false, "zero": false}, "axis": {"orient": "left", "title": "Vel (Km/sec)", "titlePadding": 4, "values": [190,200,210,220,230,240,250,260,270,280,290,300,310,320,330,340,350,360,370,380,390,400,410,420,430,440,450,460,470,480,490,500,510], "labelExpr": "datum.value % 50 === 0 ? format(datum.value, 'd') : ''", "labelPadding": 10, "tickSize": {"condition": {"test": "datum.value % 50 === 0", "value": -5}, "value": -3}}}
   }},
  {"data": {"name": "vel"}, "mark": {"type": "line", "strokeOpacity": 0},
   "encoding": {
    "x": {"field": "t", "type": "quantitative", "axis": {"orient": "top", "title": null, "labels": false, "values": [0,1,2,3,4,5,6,7,8,9,10,11,12,13,14,15,16,17,18,19,20,21,22,23,24], "tickSize": {"condition": {"test": "datum.value % 6 === 0", "value": -5}, "value": -3}}},
    "y": {"field": "v", "type": "quantitative", "axis": {"orient": "right", "title": null, "labels": false, "values": [190,200,210,220,230,240,250,260,270,280,290,300,310,320,330,340,350,360,370,380,390,400,410,420,430,440,450,460,470,480,490,500,510], "tickSize": {"condition": {"test": "datum.value % 50 === 0", "value": -5}, "value": -3}}}
   }}
 ]},
{"width": 340, "height": 62, "resolve": {"axis": {"x": "independent", "y": "independent"}},
 "layer": [
  {"data": {"name": "temp"}, "mark": {"type": "line", "clip": true},
   "encoding": {
    "x": {"field": "t", "type": "quantitative", "scale": {"domain": [0, 24], "nice": false}, "axis": {"orient": "bottom", "title": "UT (Hour)\u00a0\u00a002/06/2012", "titlePadding": -1, "labelPadding": 7, "labelExpr": "datum.value % 6 === 0 ? (datum.value === 24 ? '0' : format(datum.value, 'd')) : ''", "values": [0,1,2,3,4,5,6,7,8,9,10,11,12,13,14,15,16,17,18,19,20,21,22,23,24], "tickSize": {"condition": {"test": "datum.value % 6 === 0", "value": -5}, "value": -3}}},
    "y": {"field": "v", "type": "quantitative", "scale": {"domain": [0, 1170000], "nice": false, "zero": false}, "axis": {"orient": "left", "title": "Ion Temp (K)", "titlePadding": 4, "values": [0,50000,100000,150000,200000,250000,300000,350000,400000,450000,500000,550000,600000,650000,700000,750000,800000,850000,900000,950000,1000000,1050000,1100000,1150000], "labelExpr": "datum.value === 0 ? '0' : datum.value === 1000000 ? '1×10⁶' : datum.value % 200000 === 0 ? format(datum.value / 100000, 'd') + '×10⁵' : ''", "labelPadding": 10, "tickSize": {"condition": {"test": "datum.value % 200000 === 0", "value": -5}, "value": -3}}}
   }},
  {"data": {"name": "temp"}, "mark": {"type": "line", "strokeOpacity": 0},
   "encoding": {
    "x": {"field": "t", "type": "quantitative", "axis": {"orient": "top", "title": null, "labels": false, "values": [0,1,2,3,4,5,6,7,8,9,10,11,12,13,14,15,16,17,18,19,20,21,22,23,24], "tickSize": {"condition": {"test": "datum.value % 6 === 0", "value": -5}, "value": -3}}},
    "y": {"field": "v", "type": "quantitative", "axis": {"orient": "right", "title": null, "labels": false, "values": [0,50000,100000,150000,200000,250000,300000,350000,400000,450000,500000,550000,600000,650000,700000,750000,800000,850000,900000,950000,1000000,1050000,1100000,1150000], "tickSize": {"condition": {"test": "datum.value % 200000 === 0", "value": -5}, "value": -3}}}
   }}
 ]}
]
}
